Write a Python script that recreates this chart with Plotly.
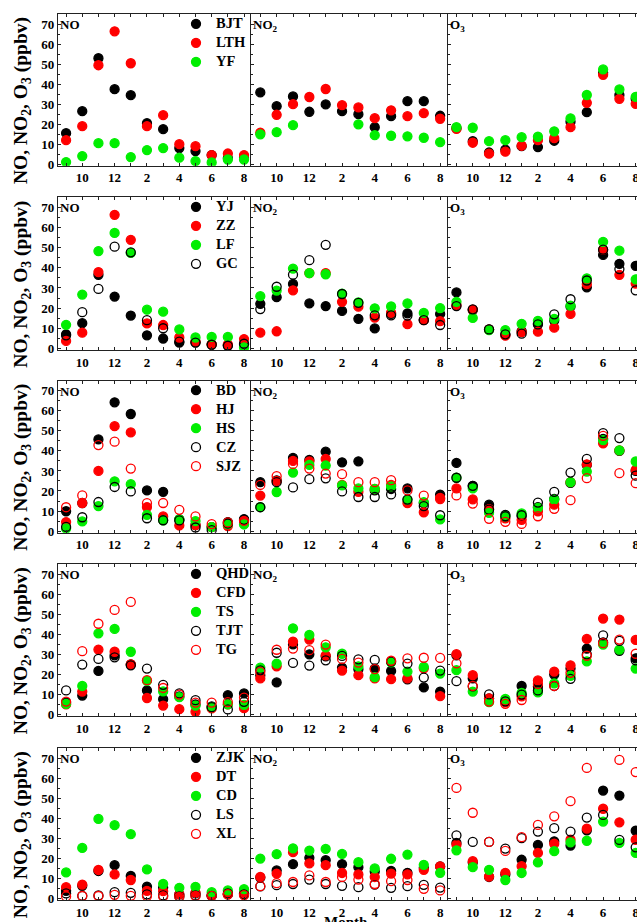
import plotly.graph_objects as go

# ---------------- data ----------------
months = [9, 10, 11, 12, 1, 2, 3, 4, 5, 6, 7, 8]
tick_labels = ["10", "12", "2", "4", "6", "8"]
pollutants = ["NO", "NO<sub>2</sub>", "O<sub>3</sub>"]

# Row 1
BJT_NO = [15.5, 26.5, 53, 37.5, 34.5, 20.5, 17.5, 8, 6.5, 4.5, 3, 3]
LTH_NO = [12, 19, 49.5, 66.5, 50.5, 19, 24.5, 10, 9, 4.5, 5.3, 4.5]
YF_NO = [1, 4, 10.5, 10.5, 3.5, 7, 8, 3.2, 1.5, 0.8, 2.3, 2.3]
BJT_NO2 = [35.9, 29, 33.9, 26.2, 29.9, 26.5, 25, 18.5, 24, 31.5, 31.5, 24.2]
LTH_NO2 = [15.7, 24.7, 30, 33.6, 37.6, 29.5, 28.4, 23, 26.9, 24, 25.5, 22.7]
YF_NO2 = [14.9, 16, 19.5, None, None, None, 19.9, 14.5, 14.2, 13.9, 13.2, 11]
BJT_O3 = [18, 11.5, 5.8, 7.2, 9, 8.5, 11.7, 21.2, 26, 45.7, 34.6, 32.7]
LTH_O3 = [17.7, 10.7, 5.2, 6.2, 9.2, 12, 13, 18.5, 30.7, 44.7, 32.7, 30.2]
YF_O3 = [18.5, 18.2, 11.5, 12, 13.5, 13.7, 16.4, 22.9, 34.6, 47.4, 37.4, 33.7]

# Row 2
YJ_NO = [7, 12.5, 36.5, 25.7, 16.3, 6.5, 4.9, 2.9, 3, 2, 1.5, 2]
ZZ_NO = [3.7, 7.8, 37.9, 66.3, 53.9, 12.4, 11.6, 5.4, 3.4, 2, 2, 4.6]
LF_NO = [11.7, 26.7, 48.3, 57.3, 47.4, 19.2, 18.2, 9.4, 5.4, 5.7, 5.7, 0.5]
GC_NO = [6.5, 18, 29.5, 50.5, 47.7, 14, 10, 3.4, 2.9, 1.8, 1.3, 2.3]
YJ_NO2 = [22.1, 25.4, 32, 22.3, 21, 18.6, 14.7, 9.9, 17.1, 17.4, 14.2, 17.1]
ZZ_NO2 = [7.8, 8.5, 28.8, 37.4, 37.4, 23.1, 20.7, 15.3, 17.7, 12, 14, 13.5]
LF_NO2 = [25.9, 28.7, 39.6, 37.4, 36.8, 27.2, 22.8, 19.9, 20.8, 22.3, 17.6, 20]
GC_NO2 = [19.5, 30.6, 36.6, 43.8, 51.4, 27, 22.6, 16.4, 16.4, 16.3, 14, 11.6]
YJ_O3 = [27.8, 19, 9.4, 6.8, 8.6, 12.4, 13.8, 20.8, 30.3, 46.4, 42, 41]
ZZ_O3 = [21.5, 19.2, 9.3, 6.3, 8.1, 8.3, 10.3, 17.1, 31.9, 49, 36.5, 32.2]
LF_O3 = [23.1, 15.1, 9.1, 9.1, 12.2, 13.7, 14.7, 21.2, 34.8, 52.9, 48.5, 34.3]
GC_O3 = [21, 19.4, 9.4, 7, 7.3, 11.9, 16.9, 24.4, 33.7, 49, 39.4, 28.8]

# Row 3
BD_NO = [9.9, 14, 45.7, 64.2, 58.4, 20.3, 19.6, 5.8, 3, 2, 4.5, 6]
HJ_NO = [4.5, 14, 30, 52.3, 49.2, 12, 7.3, 2.8, 3, 2, 2.5, 5]
HS_NO = [1.3, 4.8, 12.5, 24.8, 23.4, 8.1, 5.4, 5.8, 5, 2, 3.5, 3.3]
CZ_NO = [2.1, 6.9, 14.5, 22, 19.8, 6.4, 5.4, 5.3, 1.8, 0.5, 3.8, 5.6]
SJZ_NO = [11.9, 17.8, 42.9, 44.6, 31.2, 13.9, 14, 10.6, 7.3, 3.5, 4.3, 5.1]
BD_NO2 = [24.4, 25.3, 36.5, 35.5, 39.6, 34.3, 34.8, 20.3, 21, 21.3, 14, 18.2]
HJ_NO2 = [17.7, 25, 35, 34.7, 36, 23, 19.6, 21, 23, 14, 9.4, 16.5]
HS_NO2 = [12, 19.5, 29.2, 33, 32.7, 22.8, 21.3, 21, 22.3, 15.7, 14.4, 5.8]
CZ_NO2 = [11.9, 24.4, 21.8, 25.9, 26.3, 19.8, 17, 17, 18.3, 15.7, 12.5, 7.9]
SJZ_NO2 = [23, 27.4, 33.5, 31.2, 28.7, 28.4, 24.4, 24.4, 25.4, 20.3, 17.7, 16]
BD_O3 = [34, 22.5, 13.2, 8.1, 7.5, 12, 16, 24, 33, 46, 40, 30]
HJ_O3 = [21.3, 15.8, 11, 6.3, 5.6, 9.9, 13.2, 24.4, 33.3, 43.8, 40.3, 30.5]
HS_O3 = [26.6, 21.3, 9.1, 7.4, 8.8, 11.6, 15.7, 24.4, 29.7, 45.4, 40.3, 34.7]
CZ_O3 = [26.6, 22.6, 10.7, 7.4, 7.9, 14.2, 19.6, 29.2, 36, 48.9, 46.4, 27.7]
SJZ_O3 = [17.8, 13.7, 6.1, 4.6, 3.6, 7.4, 11.1, 15.4, 26.4, 47.5, 28.9, 23.9]

# Row 4
QHD_NO = [6, 9.4, 21.7, 29.5, 25, 12, 7.6, 9, 5, 4, 9.6, 10.5]
CFD_NO = [5, 11.4, 32.4, 31.3, 25, 8.2, 4.4, 2.6, 1.3, 3, 5, 3.1]
TS_NO = [5.3, 14.2, 40.5, 42.7, 31.3, 16.8, 11.5, 8.6, 4.4, 3.6, 5, 4.8]
TJT_NO = [12, 24.9, 27.7, 28.5, 24.5, 22.9, 14.8, 10.5, 7.1, 3.6, 2.5, 6.3]
TG_NO = [6.4, 31.6, 45.3, 52.2, 56.2, 17.1, 13.2, 9.9, 5.9, 5.9, 6.1, 8.4]
QHD_NO2 = [19.5, 16, 35, 30, 29, 23.4, 22.6, 22.9, 21.7, 17.5, 13.5, 11.4]
CFD_NO2 = [18, 24, 36.4, 37.4, 29.5, 21.9, 19.6, 18, 17.6, 18, 23, 9.1]
TS_NO2 = [23.4, 25.4, 43, 39.7, 33.5, 30.3, 24, 18.6, 26, 21.4, 23.7, 20.4]
TJT_NO2 = [22, 30.8, 25.7, 24.4, 27, 29.2, 27.5, 27.2, 26.4, 25.4, 18.4, 21.9]
TG_NO2 = [21.2, 32.3, 32.9, 32.1, 34.9, 27.7, 25.9, 22.6, 26.8, 28, 28.3, 28.2]
QHD_O3 = [29.5, 18, 8, 6.5, 14.2, 14, 19.9, 22.9, 32.9, 36, 31.8, 28]
CFD_O3 = [30.1, 19.6, 8, 6, 9, 17, 21.4, 24.5, 37.7, 47.9, 47.4, 37.2]
TS_O3 = [22.1, 11.4, 6.1, 7.7, 10.7, 11, 15.5, 19.3, 26.5, 34.9, 32.4, 22.9]
TJT_O3 = [16.6, 14, 10, 6.5, 9.9, 12, 14.2, 17.8, 30, 39.5, 36.7, 27]
TG_O3 = [25.5, 14.2, 6.4, 5.3, 7.2, 15.2, 14.2, 20.8, 29.3, 35.6, 37.4, 30.3]

# Row 5
ZJK_NO = [3.8, 6.3, 13.7, 16.6, 11.2, 5.9, 5.4, 2, 2.5, 1.5, 2, 2.5]
DT_NO = [5.6, 6.9, 14.2, 12, 9.2, 3.8, 3.6, 2, 2.8, 1.5, 2, 2.5]
CD_NO = [13, 25.2, 39.7, 36.6, 32.1, 14.5, 7.2, 5.3, 5.8, 3.1, 4, 4.6]
LS_NO = [2.5, 1.3, 1.5, 3.1, 2.8, 2, 1.5, 1, 1.5, 1.3, 2.5, 2]
XL_NO = [1, 1.2, 1.2, 1.8, 1.3, 1.2, 1, 0.8, 1.2, 1.3, 2.1, 1.6]
ZJK_NO2 = [10.4, 14, 17.1, 20.3, 19.1, 17.1, 15.6, 13.5, 13.7, 12.8, 15.3, 16]
DT_NO2 = [10.7, 12.4, 23.1, 17.5, 16.6, 12.7, 12, 10.7, 12.4, 12, 14.3, 16]
CD_NO2 = [19.9, 22.1, 25, 23.9, 24.7, 22.2, 18.1, 15, 19.8, 21.9, 16.8, 12.8]
LS_NO2 = [6, 6.6, 7.2, 9.4, 7.2, 6.3, 5.6, 6.9, 5.3, 6.1, 6.8, 5.4]
XL_NO2 = [6.1, 7.6, 8.2, 11.5, 8.2, 10.7, 9.4, 7.2, 8.6, 9.2, 4.8, 4]
ZJK_O3 = [27.7, 18, 10.7, 12, 19.3, 26.7, 28.5, 26.4, 34, 53.9, 51.4, 33.8]
DT_O3 = [26.8, 18.6, 10.9, 12.8, 16.1, 22.7, 27.3, 29.3, 34.9, 44.8, 38, 29.3]
CD_O3 = [24, 15.6, 14.3, 9.2, 12.7, 18, 23.6, 28, 28.8, 38.4, 27.7, 22.7]
LS_O3 = [31.5, 28.2, 28.2, 24.9, 30.1, 33.4, 35.1, 33.4, 40.4, 41.7, 29.2, 25.5]
XL_O3 = [55.2, 42.8, 28.2, 23.7, 30.6, 36.7, 41, 48.6, 65.2, None, 69.2, 63.1]

rows = [
    [("BJT", BJT_NO, BJT_NO2, BJT_O3), ("LTH", LTH_NO, LTH_NO2, LTH_O3), ("YF", YF_NO, YF_NO2, YF_O3)],
    [("YJ", YJ_NO, YJ_NO2, YJ_O3), ("ZZ", ZZ_NO, ZZ_NO2, ZZ_O3), ("LF", LF_NO, LF_NO2, LF_O3), ("GC", GC_NO, GC_NO2, GC_O3)],
    [("BD", BD_NO, BD_NO2, BD_O3), ("HJ", HJ_NO, HJ_NO2, HJ_O3), ("HS", HS_NO, HS_NO2, HS_O3),
     ("CZ", CZ_NO, CZ_NO2, CZ_O3), ("SJZ", SJZ_NO, SJZ_NO2, SJZ_O3)],
    [("QHD", QHD_NO, QHD_NO2, QHD_O3), ("CFD", CFD_NO, CFD_NO2, CFD_O3), ("TS", TS_NO, TS_NO2, TS_O3),
     ("TJT", TJT_NO, TJT_NO2, TJT_O3), ("TG", TG_NO, TG_NO2, TG_O3)],
    [("ZJK", ZJK_NO, ZJK_NO2, ZJK_O3), ("DT", DT_NO, DT_NO2, DT_O3), ("CD", CD_NO, CD_NO2, CD_O3),
     ("LS", LS_NO, LS_NO2, LS_O3), ("XL", XL_NO, XL_NO2, XL_O3)],
]

# ---------------- styling / layout ----------------
styles = [("circle", "#000000"), ("circle", "#FF0000"), ("circle", "#00EE00"),
          ("circle-open", "#000000"), ("circle-open", "#FF0000")]
FONT = "Liberation Serif"
W, H = 637, 922
ML, MR, MT, MB = 58, 0, 14, 22
PW, PH = W - ML - MR, H - MT - MB
row_px = [(14.3, 165.7), (197.3, 350.0), (380.7, 532.7), (564.3, 716.0), (748.3, 900.0)]
col_px = [(58, 250.5), (250.5, 447.5), (447.5, 637)]
xranges = [[-0.5, 11.4], [-0.6, 11.45], [-0.55, 11.08]]
yrange = [-0.8, 75]

def px2py(p):  # pixel from top -> paper y
    return (H - MB - p) / PH

def px2px(p):  # pixel from left -> paper x
    return (p - ML) / PW

xpos = list(range(len(months)))
major_x = [i for i, m in enumerate(months) if m % 2 == 0]
minor_x = [i for i, m in enumerate(months) if m % 2 == 1]

fig = go.Figure()
layout = {}
annotations = []
for r, stations in enumerate(rows):
    legname = "legend" if r == 0 else f"legend{r+1}"
    for c in range(3):
        k = r * 3 + c + 1
        xa = "x" if k == 1 else f"x{k}"
        ya = "y" if k == 1 else f"y{k}"
        for i, st in enumerate(stations):
            sym, col = styles[i]
            fig.add_trace(go.Scatter(
                x=xpos, y=st[c + 1], mode="markers",
                name=f"<span style='font-size:14.5px'>{st[0]}</span>",
                xaxis=xa, yaxis=ya, legend=legname, showlegend=(c == 0),
                marker=dict(symbol=sym, color=col, size=9, line=dict(width=1.3, color=col)),
            ))
        layout[f"xaxis{k}" if k > 1 else "xaxis"] = dict(
            domain=[px2px(col_px[c][0]), px2px(col_px[c][1])], anchor=ya, range=xranges[c],
            tickmode="array", tickvals=major_x, ticktext=tick_labels,
            ticks="inside", ticklen=3, tickwidth=1, tickcolor="#222",
            minor=dict(tickmode="array", tickvals=minor_x, ticks="inside", ticklen=3,
                       tickwidth=1, tickcolor="#222"),
            showline=True, linecolor="#222", linewidth=1.3, mirror="ticks",
            showgrid=False, zeroline=False, ticklabeloverflow="allow",
            tickfont=dict(family=FONT, size=13, color="black", weight="bold"),
        )
        layout[f"yaxis{k}" if k > 1 else "yaxis"] = dict(
            domain=[px2py(row_px[r][1]), px2py(row_px[r][0])], anchor=xa, range=yrange,
            tickvals=[0, 10, 20, 30, 40, 50, 60, 70], showticklabels=(c == 0),
            ticks="inside", ticklen=3, tickwidth=1, tickcolor="#222",
            minor=dict(dtick=5, tick0=0, ticks="inside", ticklen=2, tickcolor="#222"),
            showline=True, linecolor="#222", linewidth=1.3, mirror=False,
            showgrid=False, zeroline=False,
            tickfont=dict(family=FONT, size=13, color="black", weight="bold"),
        )
        annotations.append(dict(
            text=pollutants[c], xref=f"{xa} domain", yref=f"{ya} domain", x=0, y=1,
            xanchor="left", yanchor="top", xshift=0, yshift=-1, showarrow=False,
            font=dict(family=FONT, size=13, color="black", weight="bold"),
        ))
    layout[legname] = dict(
        x=px2px(176), y=px2py(row_px[r][0] - 5), xanchor="left", yanchor="top",
        bgcolor="rgba(0,0,0,0)", borderwidth=0, itemsizing="trace",
        font=dict(family=FONT, size=12, color="black", weight="bold"),
    )
    annotations.append(dict(
        text="NO, NO<sub>2</sub>, O<sub>3</sub> (ppbv)", xref="paper", yref="paper",
        x=px2px(22), y=px2py((row_px[r][0] + row_px[r][1]) / 2 + 11), textangle=-90,
        xanchor="center", yanchor="middle", showarrow=False,
        font=dict(family=FONT, size=19.5, color="black", weight="bold"),
    ))

annotations.append(dict(
    text="Month", xref="paper", yref="paper", x=px2px(346), y=px2py(922),
    xanchor="center", yanchor="middle", showarrow=False,
    font=dict(family=FONT, size=15, color="black", weight="bold"),
))

fig.update_layout(
    width=W, height=H, margin=dict(l=ML, r=MR, t=MT, b=MB, autoexpand=False),
    paper_bgcolor="white", plot_bgcolor="white", annotations=annotations, **layout,
)
fig.write_html(
    "out.html",
    config={"displayModeBar": False},
    post_script="document.body.style.margin='0';document.body.style.overflow='hidden';",
)
